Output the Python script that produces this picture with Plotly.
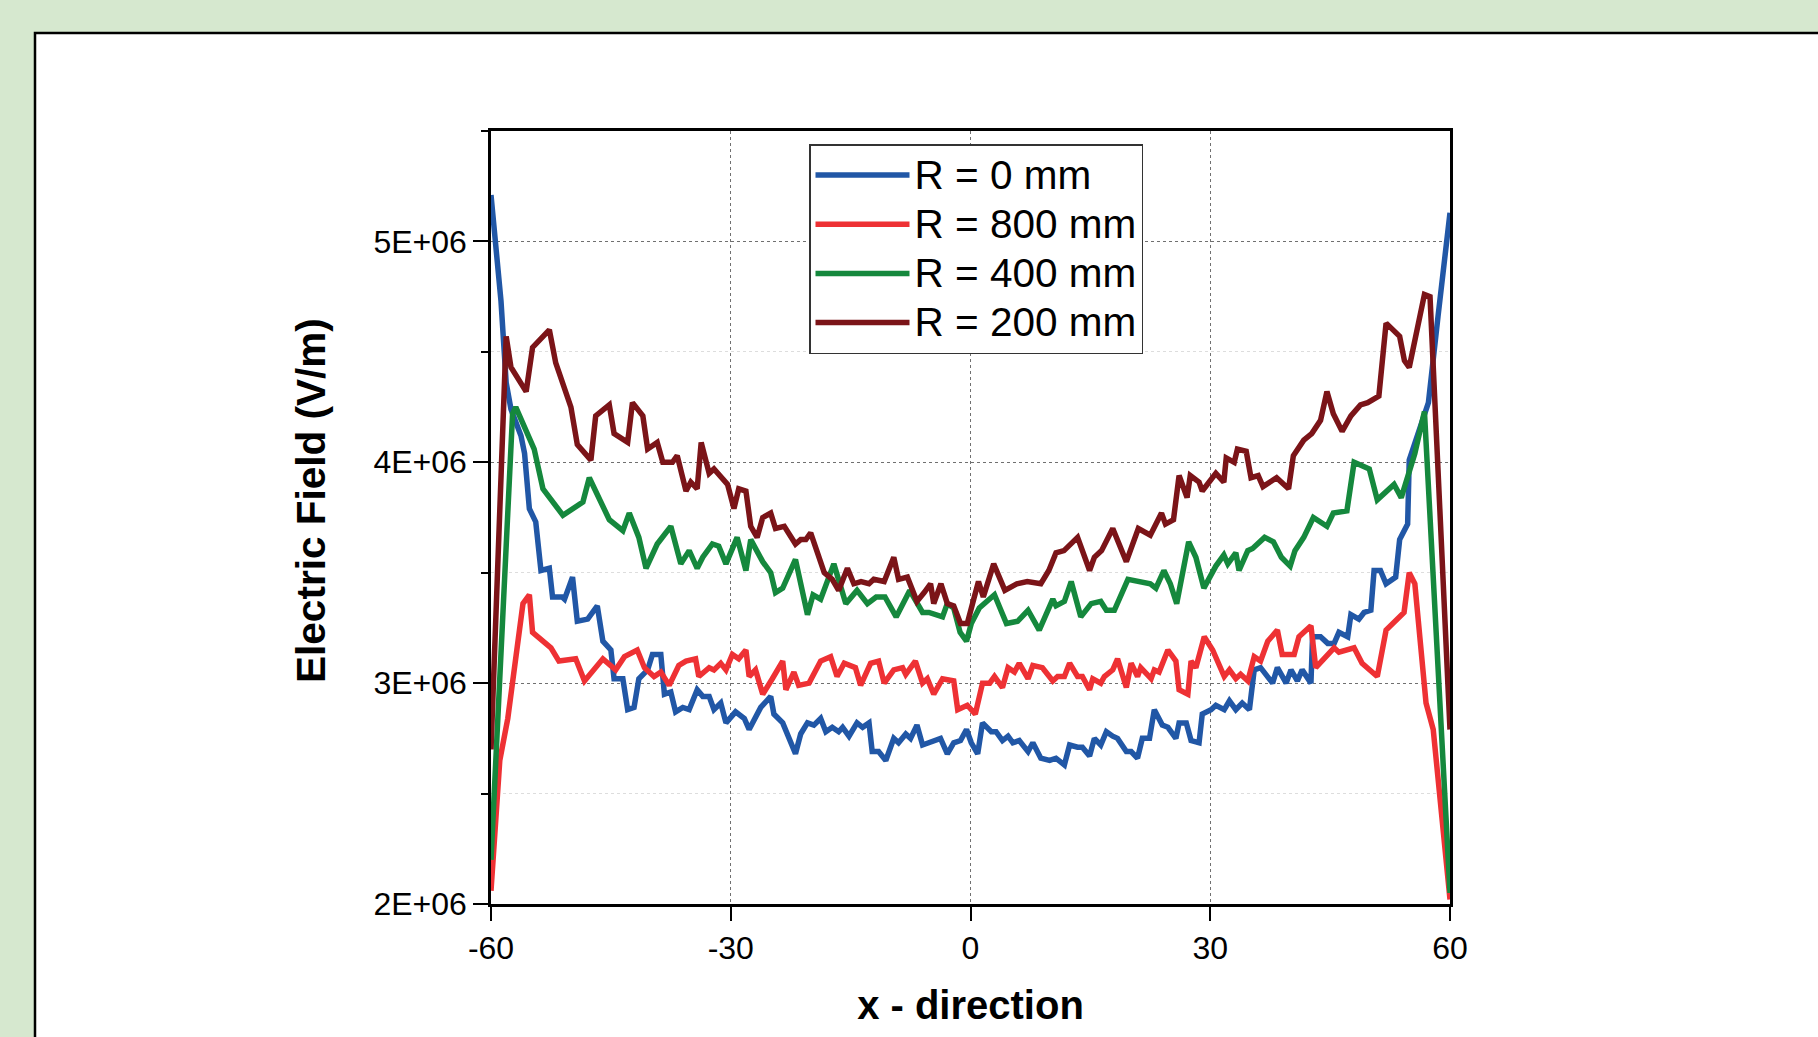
import plotly.graph_objects as go

# ---------------- data (values in units of 1E+06 V/m) ----------------
x_r0 = [-60, -58.75, -58.1, -57.5, -56.25, -55.8, -55.2, -54.4, -53.75, -52.7, -52.3, -51.1, -50.8, -49.8,
        -49.2, -47.9, -46.7, -46.0, -45.0, -44.6, -43.5, -42.9, -42.1, -41.5, -40.4, -39.8, -38.75, -38.3,
        -37.5, -36.9, -36.0, -35.2, -34.2, -33.5, -32.7, -32.1, -31.25, -30.6, -29.4, -28.3, -27.7, -26.25,
        -25.0, -24.6, -23.5, -21.9, -21.25, -20.4, -19.6, -18.75, -18.1, -17.3, -16.5, -16.0, -15.2, -14.2,
        -13.5, -12.7, -12.3, -11.5, -10.6, -9.6, -9.0, -8.1, -7.5, -6.7, -6.0, -5.2, -3.75, -2.9, -2.1,
        -1.25, -0.5, 0.1, 0.9, 1.5, 2.6, 3.2, 4.0, 4.7, 5.3, 6.1, 7.2, 7.8, 8.8, 9.9, 10.7, 11.75, 12.4,
        13.4, 14.0, 14.9, 15.5, 16.3, 17.0, 17.8, 18.4, 19.5, 20.1, 20.9, 21.5, 22.4, 23.0, 24.0, 24.7,
        25.7, 26.1, 27.0, 27.6, 28.6, 29.0, 30.1, 30.7, 31.75, 32.4, 33.2, 34.0, 34.9, 35.5, 36.3, 37.0,
        37.8, 38.4, 39.5, 40.1, 40.9, 41.5, 42.6, 42.8, 43.8, 44.7, 45.5, 46.1, 47.2, 47.6, 48.6, 49.25,
        50.1, 50.5, 51.3, 52.0, 53.2, 53.7, 54.7, 54.9, 56.6, 57.3, 58.5, 60]
e_r0 = [5.21, 4.73, 4.36, 4.24, 4.12, 4.04, 3.79, 3.73, 3.51, 3.52, 3.39, 3.39, 3.38, 3.48,
        3.28, 3.29, 3.35, 3.19, 3.15, 3.02, 3.02, 2.88, 2.89, 3.02, 3.06, 3.13, 3.13, 2.95,
        2.96, 2.87, 2.89, 2.88, 2.97, 2.94, 2.94, 2.88, 2.91, 2.82, 2.87, 2.84, 2.79, 2.89,
        2.94, 2.86, 2.82, 2.68, 2.77, 2.82, 2.81, 2.84, 2.78, 2.80, 2.78, 2.80, 2.76, 2.82,
        2.80, 2.82, 2.69, 2.69, 2.65, 2.75, 2.73, 2.77, 2.75, 2.81, 2.72, 2.73, 2.75, 2.68, 2.73,
        2.74, 2.79, 2.73, 2.68, 2.82, 2.78, 2.78, 2.74, 2.76, 2.73, 2.74, 2.69, 2.73, 2.66, 2.65, 2.66, 2.63, 2.72,
        2.71, 2.71, 2.67, 2.75, 2.72, 2.78, 2.76, 2.75, 2.69, 2.69, 2.66, 2.75, 2.75, 2.88, 2.81, 2.80,
        2.75, 2.82, 2.82, 2.74, 2.73, 2.86, 2.88, 2.90, 2.88, 2.92, 2.88, 2.91, 2.88, 3.06, 3.07, 3.04,
        3.00, 3.07, 3.00, 3.06, 3.01, 3.06, 3.00, 3.21, 3.21, 3.18, 3.18, 3.23, 3.21, 3.31, 3.29, 3.32,
        3.33, 3.51, 3.51, 3.45, 3.48, 3.65, 3.72, 4.01, 4.19, 4.27, 4.66, 5.13]

x_r800 = [-60, -58.9, -57.9, -56.0, -55.2, -54.8, -52.5, -51.5, -49.4, -48.3, -46.0, -44.4, -43.3, -41.7,
          -40.8, -39.6, -38.75, -37.7, -36.5, -35.6, -34.4, -34.0, -32.7, -32.1, -31.25, -30.6, -29.8,
          -29.0, -28.1, -27.7, -26.9, -26.0, -24.8, -23.5, -23.1, -22.1, -21.5, -20.2, -18.75, -17.5,
          -16.7, -15.8, -14.4, -13.75, -12.5, -11.5, -10.8, -9.6, -8.5, -8.1, -6.9, -6.0, -5.4, -4.6,
          -3.5, -2.1, -1.6, -0.4, 0.6, 1.5, 2.4, 3.0, 4.0, 4.7, 5.5, 6.1, 7.2, 7.8, 9.0, 10.3, 10.9,
          11.75, 12.4, 13.4, 14.0, 14.9, 15.3, 16.3, 16.75, 17.8, 18.4, 19.5, 20.1, 20.9, 21.3, 22.6,
          23.0, 23.6, 24.7, 25.7, 26.1, 27.2, 27.6, 28.2, 29.25, 30.3, 31.75, 32.4, 33.2, 33.8, 34.7,
          35.5, 36.3, 37.2, 38.4, 39.0, 40.5, 41.1, 42.6, 43.2, 45.5, 46.1, 48.0, 49.0, 50.9, 52.0,
          54.25, 54.9, 55.6, 57.0, 57.9, 60]
e_r800 = [2.06, 2.65, 2.84, 3.36, 3.40, 3.23, 3.16, 3.10, 3.11, 3.01, 3.11, 3.06, 3.12, 3.15,
          3.07, 3.03, 3.05, 2.99, 3.08, 3.10, 3.11, 3.03, 3.07, 3.06, 3.09, 3.06, 3.13,
          3.11, 3.15, 3.03, 3.06, 2.95, 3.02, 3.10, 2.97, 3.05, 2.99, 3.00, 3.10, 3.12,
          3.03, 3.09, 3.07, 2.99, 3.09, 3.10, 3.00, 3.06, 3.07, 3.04, 3.10, 3.00, 3.02, 2.95,
          3.02, 3.01, 2.88, 2.90, 2.86, 3.00, 3.00, 3.03, 2.98, 3.07, 3.05, 3.09, 3.02, 3.08, 3.07, 3.01, 3.03,
          3.03, 3.09, 3.03, 3.03, 2.97, 3.02, 3.00, 3.03, 3.06, 3.11, 2.98, 3.09, 3.03, 3.07, 3.02,
          3.06, 3.05, 3.15, 3.10, 2.97, 2.95, 3.10, 3.07, 3.21, 3.15, 3.03, 3.06, 3.02, 3.04, 3.01,
          3.12, 3.10, 3.19, 3.24, 3.13, 3.13, 3.21, 3.26, 3.07, 3.16, 3.14, 3.16, 3.09, 3.03, 3.24,
          3.32, 3.50, 3.45, 2.91, 2.79, 2.02]

x_r400 = [-60, -57.3, -56.9, -54.6, -53.5, -51.0, -48.5, -47.7, -45.2, -43.5, -42.7, -41.5, -40.6, -39.2,
          -37.5, -36.25, -35.2, -34.2, -33.5, -32.3, -31.5, -30.6, -29.2, -28.1, -27.5, -26.0, -25.0,
          -24.4, -23.5, -21.9, -20.4, -19.7, -18.75, -17.1, -15.6, -14.2, -12.9, -11.8, -10.7, -9.3,
          -7.6, -6.0, -5.2, -3.5, -2.9, -2.1, -1.3, -0.5, 0.1, 1.1, 3.0, 4.5, 5.9, 7.2, 8.6, 10.3, 10.7,
          11.75, 12.6, 13.8, 15.1, 16.3, 17.0, 18.0, 19.7, 21.0, 22.5, 23.2, 24.2, 25.0, 25.8, 27.3,
          28.2, 29.2, 30.1, 30.7, 31.7, 32.2, 33.2, 33.6, 34.7, 35.3, 36.8, 37.9, 38.9, 40.0, 40.6,
          41.7, 42.9, 44.6, 45.4, 47.1, 48.0, 49.9, 50.9, 53.0, 53.9, 55.6, 56.8, 60]
e_r400 = [2.20, 4.22, 4.25, 4.06, 3.88, 3.76, 3.82, 3.93, 3.74, 3.69, 3.77, 3.66, 3.52, 3.63,
          3.71, 3.54, 3.60, 3.52, 3.57, 3.63, 3.62, 3.54, 3.66, 3.51, 3.65, 3.55, 3.50,
          3.41, 3.43, 3.56, 3.31, 3.40, 3.38, 3.54, 3.36, 3.42, 3.36, 3.39, 3.39, 3.30,
          3.42, 3.32, 3.32, 3.30, 3.36, 3.34, 3.23, 3.19, 3.27, 3.34, 3.40, 3.27, 3.28, 3.33, 3.24, 3.38, 3.35,
          3.37, 3.46, 3.30, 3.36, 3.37, 3.33, 3.33, 3.47, 3.46, 3.45, 3.43, 3.51, 3.45, 3.36, 3.64,
          3.57, 3.43, 3.49, 3.53, 3.58, 3.54, 3.59, 3.51, 3.60, 3.61, 3.66, 3.64, 3.57, 3.53, 3.60,
          3.66, 3.75, 3.71, 3.77, 3.78, 4.00, 3.97, 3.83, 3.90, 3.84, 4.04, 4.23, 2.05]

x_r200 = [-60, -58.1, -57.5, -55.6, -54.8, -52.7, -51.9, -50.0, -49.2, -47.5, -46.9, -45.2, -44.6, -42.9,
          -42.3, -41.0, -40.4, -39.2, -38.5, -37.3, -36.7, -35.6, -35.0, -34.2, -33.7, -32.7, -32.1,
          -31.25, -30.4, -29.6, -29.0, -28.1, -27.5, -26.7, -26.0, -25.0, -24.4, -23.3, -21.9, -21.25,
          -20.6, -20.0, -18.3, -17.3, -16.5, -15.4, -14.6, -13.7, -12.7, -12.1, -10.8, -9.6, -9.0,
          -7.9, -6.7, -5.8, -5.0, -4.6, -3.7, -2.9, -2.1, -1.25, -0.4, 0.4, 1.0, 1.6, 2.9, 4.3, 5.8,
          7.1, 8.8, 9.8, 10.7, 11.7, 13.4, 14.9, 15.5, 16.4, 17.8, 19.5, 21.0, 22.5, 23.9, 24.4, 25.4,
          26.1, 27.1, 27.5, 28.6, 29.0, 30.1, 30.7, 31.7, 32.0, 33.0, 33.4, 34.5, 35.1, 36.0, 36.6,
          38.3, 39.8, 40.4, 41.7, 42.7, 43.8, 44.6, 45.4, 46.5, 47.6, 48.8, 49.7, 51.1, 52.0, 53.7,
          54.3, 54.9, 56.8, 57.5, 60]
e_r200 = [2.70, 4.57, 4.43, 4.32, 4.52, 4.60, 4.45, 4.25, 4.08, 4.01, 4.21, 4.26, 4.13, 4.09,
          4.27, 4.21, 4.06, 4.09, 4.00, 4.00, 4.03, 3.87, 3.91, 3.88, 4.09, 3.95, 3.97,
          3.93, 3.90, 3.79, 3.88, 3.87, 3.71, 3.66, 3.75, 3.77, 3.70, 3.71, 3.63, 3.65,
          3.65, 3.68, 3.50, 3.47, 3.42, 3.52, 3.45, 3.46, 3.45, 3.47, 3.46, 3.57, 3.47,
          3.48, 3.37, 3.41, 3.45, 3.36, 3.45, 3.36, 3.35, 3.27, 3.27, 3.38, 3.46, 3.39, 3.54, 3.42, 3.45,
          3.46, 3.45, 3.51, 3.59, 3.60, 3.66, 3.51, 3.57, 3.60, 3.70, 3.55, 3.70, 3.67, 3.77, 3.72, 3.74,
          3.94, 3.84, 3.94, 3.91, 3.87, 3.92, 3.95, 3.91, 4.02, 4.00, 4.06, 4.05, 3.93, 3.94, 3.89,
          3.93, 3.88, 4.03, 4.10, 4.13, 4.19, 4.32, 4.22, 4.14, 4.21, 4.26, 4.27, 4.30, 4.63, 4.57,
          4.46, 4.43, 4.76, 4.75, 2.79]

series_names = ["R = 0 mm", "R = 800 mm", "R = 400 mm", "R = 200 mm"]
series_x = [x_r0, x_r800, x_r400, x_r200]
series_e = [e_r0, e_r800, e_r400, e_r200]
series_colors = ["#2157a6", "#ee3134", "#15883d", "#7b1418"]

x_ticks = [-60, -30, 0, 30, 60]
x_ticktext = ["-60", "-30", "0", "30", "60"]
y_ticks = [2e6, 3e6, 4e6, 5e6]
y_ticktext = ["2E+06", "3E+06", "4E+06", "5E+06"]
y_minor = [2.5e6, 3.5e6, 4.5e6, 5.5e6]

# ---------------- figure ----------------
W, H = 1818, 1037
L, R, T, B = 491, 1450, 131, 904   # plot area in pixels

fig = go.Figure()
for name, xs, es, col in zip(series_names, series_x, series_e, series_colors):
    fig.add_trace(go.Scatter(x=xs, y=[v * 1e6 for v in es], mode="lines",
                             name='<span style="font-size:40.5px">' + name + '</span>',
                             line=dict(color=col, width=5.5)))

def px_x(p):
    return (p - L) / (R - L)

def px_y(p):
    return (B - p) / (B - T)

# white panel with black left/top border
fig.add_shape(type="rect", xref="paper", yref="paper",
              x0=px_x(35), x1=px_x(1840), y0=px_y(1060), y1=px_y(33),
              fillcolor="white", line=dict(color="black", width=2.5), layer="below")

font_fam = "Arial, Liberation Sans, sans-serif"
fig.update_layout(
    width=W, height=H,
    margin=dict(l=L, r=W - R, t=T, b=H - B, autoexpand=False),
    paper_bgcolor="#d6e8cf",
    plot_bgcolor="white",
    font=dict(family=font_fam, color="black", size=32),
    showlegend=True,
    legend=dict(x=px_x(809), y=px_y(144), xanchor="left", yanchor="top",
                bgcolor="white", bordercolor="#333333", borderwidth=1.5,
                font=dict(size=35.5, family=font_fam), itemwidth=94, tracegroupgap=0),
)
fig.update_xaxes(
    range=[-60, 60], tickmode="array", tickvals=x_ticks, ticktext=x_ticktext,
    ticks="outside", ticklen=14, tickwidth=2, tickcolor="black",
    showline=True, linecolor="black", linewidth=2.5, mirror=True,
    showgrid=True, gridcolor="#707070", griddash="dot", gridwidth=1.2,
    zeroline=False, tickfont=dict(size=32),
    title=dict(text="<b>x - direction</b>", font=dict(size=40), standoff=26),
)
fig.update_yaxes(
    range=[2e6, 5.5e6], tickmode="array", tickvals=y_ticks, ticktext=y_ticktext,
    ticks="outside", ticklen=15, tickwidth=2, tickcolor="black",
    showline=True, linecolor="black", linewidth=2.5, mirror=True,
    showgrid=True, gridcolor="#707070", griddash="dot", gridwidth=1.2,
    zeroline=False, tickfont=dict(size=32),
    minor=dict(tickmode="array", tickvals=y_minor, ticks="outside", ticklen=7, tickwidth=2,
               tickcolor="black", showgrid=True, gridcolor="#dddddd", gridwidth=1),
    title=dict(text="&nbsp;&nbsp;&nbsp;<b>Electric Field (V/m)</b>", font=dict(size=40.5), standoff=36),
)

fig.write_html("out.html", config={"displayModeBar": False},
               post_script="document.body.style.margin='0';document.body.style.padding='0';")
